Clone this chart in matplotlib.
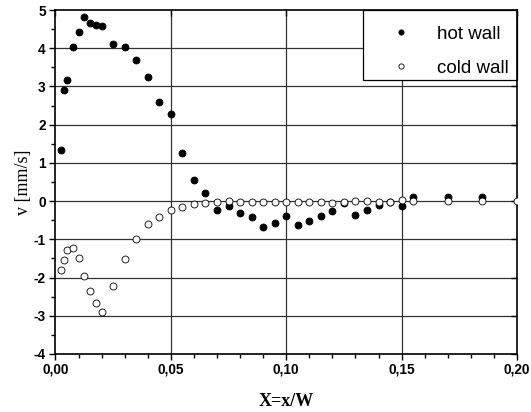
import matplotlib
matplotlib.use("Agg")
import matplotlib.pyplot as plt
from matplotlib.patches import Rectangle
from matplotlib.ticker import MultipleLocator, FuncFormatter

x_hot = [0.0025, 0.00375, 0.005, 0.0075, 0.01, 0.0125, 0.015, 0.0175, 0.02, 0.025, 0.03,
         0.035, 0.04, 0.045, 0.05, 0.055, 0.06, 0.065, 0.07, 0.075, 0.08, 0.085, 0.09,
         0.095, 0.10, 0.105, 0.11, 0.115, 0.12, 0.125, 0.13, 0.135, 0.14, 0.145, 0.15,
         0.155, 0.17, 0.185]
v_hot = [1.35, 2.90, 3.18, 4.03, 4.42, 4.82, 4.67, 4.62, 4.59, 4.12, 4.02,
         3.68, 3.25, 2.59, 2.28, 1.26, 0.56, 0.21, -0.22, -0.12, -0.31, -0.41, -0.69,
         -0.56, -0.38, -0.62, -0.52, -0.38, -0.25, -0.05, -0.37, -0.22, -0.09, -0.03, -0.13,
         0.10, 0.10, 0.11]

x_cold = [0.0025, 0.00375, 0.005, 0.0075, 0.01, 0.0125, 0.015, 0.0175, 0.02, 0.025, 0.03,
          0.035, 0.04, 0.045, 0.05, 0.055, 0.06, 0.065, 0.07, 0.075, 0.08, 0.085, 0.09,
          0.095, 0.10, 0.105, 0.11, 0.115, 0.12, 0.125, 0.13, 0.135, 0.14, 0.145, 0.15,
          0.155, 0.17, 0.185, 0.20]
v_cold = [-1.80, -1.55, -1.29, -1.22, -1.49, -1.96, -2.36, -2.67, -2.90, -2.21, -1.51,
          -0.99, -0.61, -0.41, -0.24, -0.15, -0.08, -0.05, -0.03, -0.01, -0.03, -0.02, -0.02,
          -0.02, -0.02, -0.02, -0.02, -0.02, -0.05, -0.02, 0.00, 0.00, -0.02, -0.02, 0.03,
          0.00, 0.00, 0.00, 0.00]

x_ticks = [0.00, 0.05, 0.10, 0.15, 0.20]
y_ticks = [-4, -3, -2, -1, 0, 1, 2, 3, 4, 5]

fig = plt.figure(figsize=(5.31, 4.12), dpi=100)
ax = fig.add_axes([0.1045, 0.1408, 0.8691, 0.8349])

ax.set_xlim(0, 0.20)
ax.set_ylim(-4, 5)
ax.set_xticks(x_ticks)
ax.set_yticks(y_ticks)
ax.xaxis.set_minor_locator(MultipleLocator(0.01))
ax.yaxis.set_minor_locator(MultipleLocator(0.5))
ax.xaxis.set_major_formatter(FuncFormatter(lambda v, p: f"{v:.2f}".replace(".", ",")))
ax.yaxis.set_major_formatter(FuncFormatter(lambda v, p: f"{int(round(v))}"))

for v in x_ticks[1:-1]:
    ax.axvline(v, color="#333333", lw=0.9, zorder=1)
for v in y_ticks[1:-1]:
    ax.axhline(v, color="#333333", lw=0.9, zorder=1)

ax.plot(x_hot, v_hot, "o", color="black", ms=5.0, mec="black", mew=0.6, label="hot wall", zorder=3)
ax.plot(x_cold, v_cold, "o", color="white", ms=5.0, mec="black", mew=0.6, label="cold wall", zorder=4)

for lab in ax.get_xticklabels() + ax.get_yticklabels():
    lab.set_fontfamily("Liberation Sans")
    lab.set_fontweight("bold")
    lab.set_fontsize(9.8)

ax.tick_params(which="both", direction="out", top=False, right=False, width=1, color="black")
ax.tick_params(which="major", length=4)
ax.tick_params(which="minor", length=3)
ax.tick_params(which="major", top=True, right=True)
ax.tick_params(axis="x", pad=2)
ax.tick_params(axis="y", pad=3)
for t in ax.xaxis.get_major_ticks():
    t.tick2line.set_marker(3)  # inward tick on top
for t in ax.yaxis.get_major_ticks():
    t.tick2line.set_marker(0)  # inward tick on right

for s in ax.spines.values():
    s.set_linewidth(1.2)

ax.set_xlabel("X=x/W", family="Liberation Serif", weight="bold", size=13, labelpad=12)
ax.set_ylabel("v [mm/s]", family="Liberation Serif", size=13, labelpad=1)

# legend box (white, covers grid lines)
box = Rectangle((0.666, 0.7965), 0.334, 0.2035, transform=ax.transAxes,
                facecolor="white", edgecolor="black", lw=0.9, zorder=2, clip_on=False)
ax.add_patch(box)

leg = ax.legend(loc="upper right", bbox_to_anchor=(1.0, 1.0 - 7.0 / 344), borderaxespad=0,
                frameon=False, prop=dict(family="Liberation Sans", size=13.5), handlelength=3.04,
                handletextpad=0.4, borderpad=0.45, labelspacing=0.9, markerscale=0.75)
leg.set_zorder(5)

fig.savefig("out.png", dpi=100)
